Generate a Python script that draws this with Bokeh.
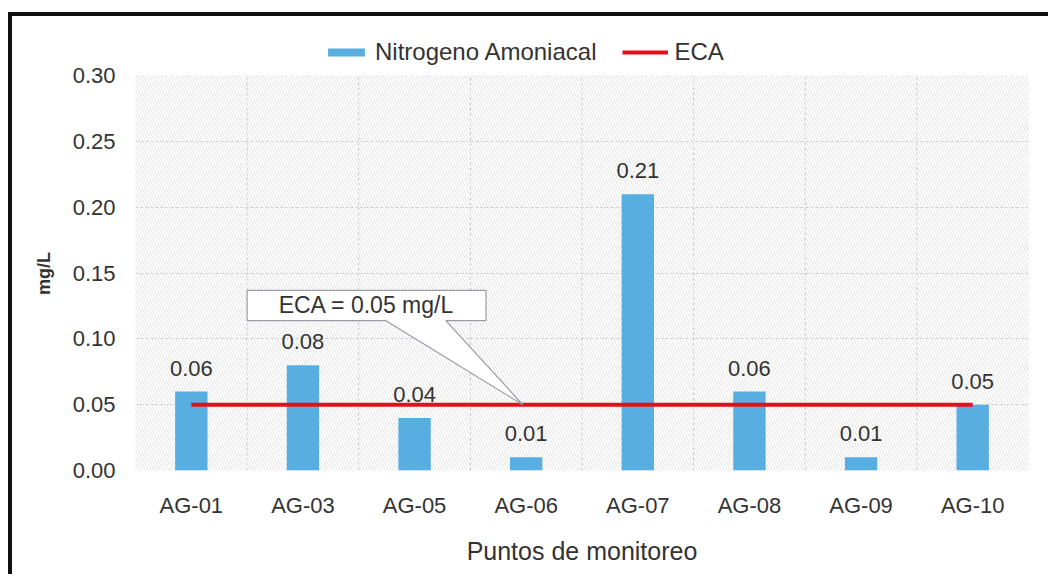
import numpy as np
from bokeh.plotting import figure
from bokeh.models import (ColumnDataSource, LabelSet, Label, BoxAnnotation, Legend,
                          LegendItem, FixedTicker)
from bokeh.core.properties import value
from bokeh.embed import file_html
from bokeh.resources import INLINE

# ---- data ----
categories = ["AG-01", "AG-03", "AG-05", "AG-06", "AG-07", "AG-08", "AG-09", "AG-10"]
nitrogeno = [0.06, 0.08, 0.04, 0.01, 0.21, 0.06, 0.01, 0.05]
eca_value = 0.05
y_ticks = [0.00, 0.05, 0.10, 0.15, 0.20, 0.25, 0.30]
y_max = 0.30
callout_text = "ECA = 0.05 mg/L"

FONT = "Liberation Sans"
TXT = "#333333"
BAR = "#58ade1"
RED = "#e3101c"
GRID = "#c3c6d2"
FS = "22px"

n = len(categories)
xc = np.arange(n) + 0.5
src = ColumnDataSource(dict(x=xc, y=nitrogeno, lbl=[f"{v:.2f}" for v in nitrogeno]))

# the frame extends a little above y_max to host the legend
p = figure(width=1040, height=562, x_range=(0, n), y_range=(0, 0.33),
           output_backend="svg", toolbar_location=None,
           min_border_left=123, min_border_right=24, min_border_top=20, min_border_bottom=108)
p.styles = {"border-left": "4px solid #111", "border-top": "4px solid #111",
            "margin-left": "8px", "margin-top": "12px"}
p.outline_line_color = None

# hatched background of plot area + dashed plot-area border
p.add_layout(BoxAnnotation(left=0, right=n, bottom=0, top=y_max, fill_color=None,
                           line_color=None, hatch_pattern="\\", hatch_color="#e4e4e4",
                           hatch_scale=6, hatch_weight=1, level="underlay"))
p.add_layout(BoxAnnotation(left=0, right=n, bottom=0, top=y_max, fill_alpha=0,
                           line_color=GRID, line_dash="3 2", line_width=1, level="underlay"))

# vertical separators between categories, horizontal grid at ticks
p.segment(x0=list(range(1, n)), x1=list(range(1, n)), y0=0, y1=y_max,
          line_color=GRID, line_dash="3 2", line_width=1, level="underlay")
p.xgrid.grid_line_color = None
p.ygrid.ticker = FixedTicker(ticks=y_ticks[1:-1])
p.ygrid.grid_line_color = GRID
p.ygrid.grid_line_dash = "3 2"

bars = p.vbar(x="x", top="y", width=0.29, source=src, fill_color=BAR, line_color=None)
eca_line = p.line(x=[xc[0], xc[-1]], y=[eca_value, eca_value], line_color=RED, line_width=4)

p.add_layout(LabelSet(x="x", y="y", text="lbl", source=src, text_align="center",
                      text_baseline="bottom", y_offset=16, text_font=value(FONT),
                      text_font_size=FS, text_color=TXT))

# callout box with pointer to the ECA line
bx0, bx1, by0, by1 = 1.0, 3.14, 0.114, 0.137
px0, px1, tip_x = 2.24, 2.78, 3.47
p.patch(x=[bx0, px0, tip_x, px1, bx1, bx1, bx0],
        y=[by0, by0, eca_value, by0, by0, by1, by1],
        fill_color="white", line_color="#9a9aa8", line_width=1.2)
p.add_layout(Label(x=(bx0 + bx1) / 2, y=(by0 + by1) / 2, text=callout_text,
                   text_align="center", text_baseline="middle", text_font=FONT,
                   text_font_size="23px", text_color=TXT))

# axes
p.xaxis.ticker = FixedTicker(ticks=list(xc))
p.xaxis.major_label_overrides = {float(x): c for x, c in zip(xc, categories)}
p.yaxis.ticker = FixedTicker(ticks=y_ticks)
p.yaxis.major_label_overrides = {t: f"{t:.2f}" for t in y_ticks}
p.yaxis.bounds = (0, y_max)
for ax in (p.xaxis[0], p.yaxis[0]):
    ax.axis_line_color = None
    ax.major_tick_line_color = None
    ax.minor_tick_line_color = None
    ax.major_label_text_font = FONT
    ax.major_label_text_font_size = FS
    ax.major_label_text_color = TXT
    ax.axis_label_text_font = FONT
    ax.axis_label_text_color = TXT
p.xaxis.major_label_standoff = 16
p.yaxis.major_label_standoff = 14
p.xaxis.axis_label = "Puntos de monitoreo"
p.xaxis.axis_label_text_font_style = "normal"
p.xaxis.axis_label_text_font_size = "25px"
p.xaxis.axis_label_standoff = 16
# non-breaking spaces centre the visible label on the 0-0.30 part of the axis
p.yaxis.axis_label = "mg/L" + "\u00a0" * 8
p.yaxis.axis_label_text_font_style = "bold"
p.yaxis.axis_label_text_font_size = "18px"
p.yaxis.axis_label_standoff = 16

# legend
legend = Legend(items=[LegendItem(label="Nitrogeno Amoniacal", renderers=[bars]),
                       LegendItem(label="ECA", renderers=[eca_line])],
                orientation="horizontal", location=(188, 404),
                label_text_font=FONT, label_text_font_size="24px", label_text_color=TXT,
                glyph_width=46, glyph_height=10, label_standoff=6, spacing=26,
                background_fill_alpha=0, border_line_color=None, padding=2, margin=0)
p.add_layout(legend, "center")

p.background_fill_color = "white"
p.border_fill_color = "white"

open("out.html", "w").write(file_html(p, INLINE))
